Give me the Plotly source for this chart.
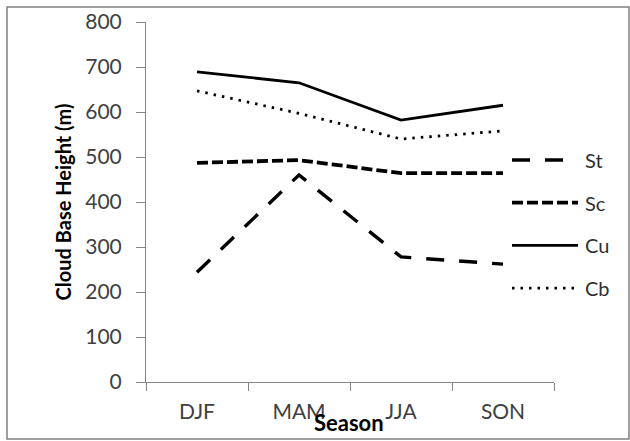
import plotly.graph_objects as go

seasons = ["DJF", "MAM", "JJA", "SON"]
st = [244, 460, 278, 262]
sc = [487, 493, 464, 464]
cu = [689, 665, 582, 615]
cb = [647, 597, 540, 558]
y_ticks = [0, 100, 200, 300, 400, 500, 600, 700, 800]
legend_names = ["St", "Sc", "Cu", "Cb"]

FONT = "Lato, 'Liberation Sans', sans-serif"
TICK_COLOR = "#404040"
AXIS_COLOR = "#868686"

styles = {
    "St": dict(color="black", width=3.4, dash="18px,15px"),
    "Sc": dict(color="black", width=3.8, dash="11px,4px"),
    "Cu": dict(color="black", width=2.8),
    "Cb": dict(color="black", width=2.8, dash="2.5px,6px"),
}
values = {"St": st, "Sc": sc, "Cu": cu, "Cb": cb}

fig = go.Figure()
for name in legend_names:
    fig.add_trace(go.Scatter(x=seasons, y=values[name], name=name, mode="lines",
                             line=styles[name], showlegend=False))

L, R, T, B = 146, 76, 22, 59
W, H = 630, 441
pw, ph = W - L - R, H - T - B

def px_x(x):
    return (x - L) / pw

def px_y(y):
    return (H - B - y) / ph

shapes = [dict(type="rect", xref="paper", yref="paper",
               x0=px_x(7), x1=px_x(629), y0=px_y(439), y1=px_y(7),
               line=dict(color="#808080", width=1.5))]
annotations = [dict(text="<b>Season</b>", xref="paper", yref="paper",
                    x=px_x(349), y=px_y(422), xanchor="center", yanchor="middle",
                    showarrow=False, font=dict(size=22, color="black"))]

# custom legend (wide line samples like the original)
leg_top, leg_step = 160, 42.7
for i, name in enumerate(legend_names):
    yy = px_y(leg_top + i * leg_step)
    shapes.append(dict(type="line", xref="paper", yref="paper",
                       x0=px_x(512), x1=px_x(578), y0=yy, y1=yy,
                       line=styles[name]))
    annotations.append(dict(text=name, xref="paper", yref="paper",
                            x=px_x(583), y=yy, xanchor="left", yanchor="middle",
                            showarrow=False,
                            font=dict(size=20, color="#303030")))

fig.update_layout(
    width=W, height=H,
    margin=dict(l=L, r=R, t=T, b=B, autoexpand=False),
    paper_bgcolor="white", plot_bgcolor="white",
    font=dict(family=FONT, color=TICK_COLOR, size=21),
    showlegend=False,
    xaxis=dict(range=[-0.5, 3.5], showline=True, linecolor=AXIS_COLOR, linewidth=1,
               ticks="outside", tickson="boundaries", ticklen=8,
               tickcolor=AXIS_COLOR, showgrid=False, zeroline=False,
               ticklabelstandoff=11,
               tickfont=dict(size=21, color=TICK_COLOR)),
    yaxis=dict(range=[0, 800], tickvals=y_ticks, showline=True,
               linecolor=AXIS_COLOR, linewidth=1, ticks="outside", ticklen=9,
               tickcolor=AXIS_COLOR, showgrid=False, zeroline=False,
               ticklabelstandoff=10,
               tickfont=dict(size=21, color=TICK_COLOR),
               title=dict(text="<b>Cloud Base Height (m)</b>",
                          font=dict(size=20, color="black"), standoff=8)),
    shapes=shapes,
    annotations=annotations,
)

fig.write_html("out.html")
